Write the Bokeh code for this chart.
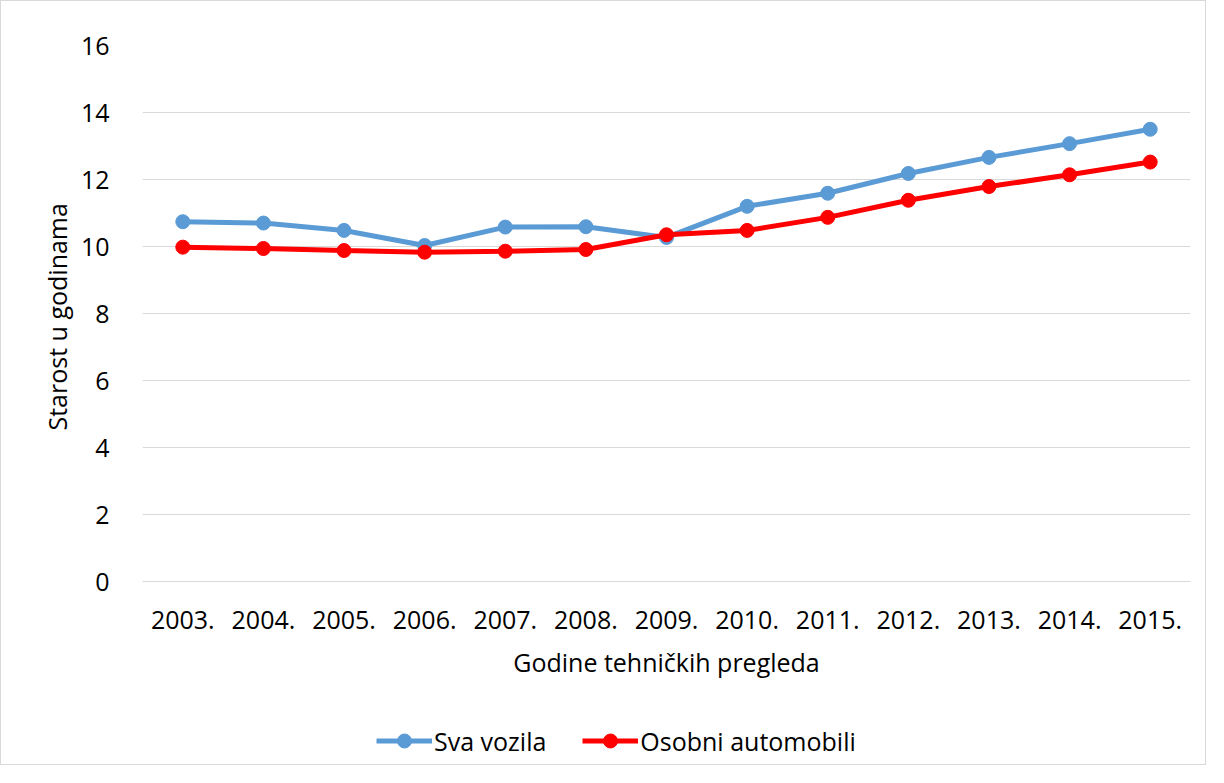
from bokeh.plotting import figure
from bokeh.models import FactorRange, Range1d, Legend, LegendItem, FixedTicker, Title
from bokeh.embed import file_html
from bokeh.resources import INLINE

years = ["2003.", "2004.", "2005.", "2006.", "2007.", "2008.", "2009.",
         "2010.", "2011.", "2012.", "2013.", "2014.", "2015."]
sva_vozila = [10.74, 10.70, 10.48, 10.03, 10.58, 10.59, 10.27,
              11.20, 11.59, 12.18, 12.66, 13.07, 13.50]
osobni_automobili = [9.98, 9.94, 9.88, 9.83, 9.86, 9.91, 10.35,
                     10.48, 10.87, 11.38, 11.79, 12.14, 12.52]
y_ticks = [0, 2, 4, 6, 8, 10, 12, 14, 16]

FONT = "Open Sans"
FS = "25px"

# layout (pixels): frame from top 44 down to canvas bottom; value 0 sits at 580
W, H = 1206, 765
TOP, ZERO_PX = 44, 580
px_per_unit = (ZERO_PX - TOP) / 16.0
y_lo = -(H - ZERO_PX) / px_per_unit

p = figure(width=W, height=H,
           x_range=FactorRange(*years, range_padding=0),
           y_range=Range1d(y_lo, 16),
           output_backend="svg", toolbar_location=None,
           min_border_left=141, min_border_right=17,
           min_border_top=TOP, min_border_bottom=0)
p.styles = {"border": "1px solid #D9D9D9"}
p.outline_line_color = None

# grid
p.xgrid.grid_line_color = None
p.ygrid.grid_line_color = "#D9D9D9"
p.ygrid.grid_line_width = 1
p.ygrid.ticker = FixedTicker(ticks=y_ticks)

# y axis
p.yaxis.ticker = FixedTicker(ticks=y_ticks)
p.yaxis.bounds = (0, 16)
p.yaxis.axis_line_color = None
p.yaxis.major_tick_line_color = None
p.yaxis.minor_tick_line_color = None
p.yaxis.major_label_standoff = 27
p.yaxis.major_label_text_font = FONT
p.yaxis.major_label_text_font_size = FS
p.yaxis.major_label_text_color = "#000000"

# y axis title, centred on the 0..16 span
ytitle = Title(text="Starost u godinama", align="left", offset=336,
               text_font=FONT, text_font_size=FS, text_font_style="normal",
               text_color="#000000", standoff=8)
p.add_layout(ytitle, "left")

# x axis, pinned at value 0 inside the frame
p.xaxis.fixed_location = 0
p.xaxis.axis_line_color = "#D9D9D9"
p.xaxis.major_tick_line_color = None
p.xaxis.minor_tick_line_color = None
p.xaxis.major_label_standoff = 23
p.xaxis.major_label_text_font = FONT
p.xaxis.major_label_text_font_size = FS
p.xaxis.major_label_text_color = "#000000"
p.xaxis.axis_label = "Godine tehničkih pregleda"
p.xaxis.axis_label_text_font = FONT
p.xaxis.axis_label_text_font_size = FS
p.xaxis.axis_label_text_font_style = "normal"
p.xaxis.axis_label_text_color = "#000000"
p.xaxis.axis_label_standoff = 13

BLUE = "#5B9BD5"
RED = "#FF0000"

l1 = p.line(years, sva_vozila, line_color=BLUE, line_width=5)
s1 = p.scatter(years, sva_vozila, size=14, fill_color=BLUE, line_color=BLUE)
l2 = p.line(years, osobni_automobili, line_color=RED, line_width=5)
s2 = p.scatter(years, osobni_automobili, size=14, fill_color=RED, line_color=RED)

legend = Legend(items=[LegendItem(label="Sva vozila", renderers=[l1, s1]),
                       LegendItem(label="Osobni automobili", renderers=[l2, s2])],
                orientation="horizontal", location=(234, 8))
legend.border_line_color = None
legend.background_fill_alpha = 0
legend.label_text_font = FONT
legend.label_text_font_size = FS
legend.label_text_color = "#000000"
legend.glyph_width = 56
legend.glyph_height = 35
legend.label_standoff = 2
legend.spacing = 36
legend.padding = 6
legend.margin = 0
p.add_layout(legend, "center")

open("out.html", "w").write(file_html(p, INLINE))
